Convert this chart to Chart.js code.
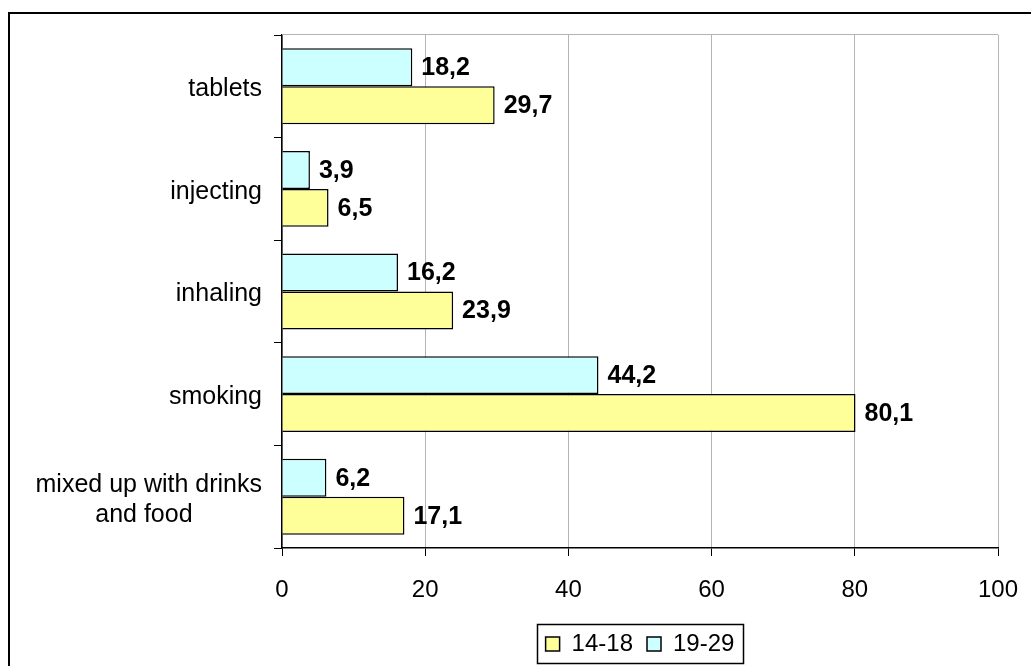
<!DOCTYPE html>
<html>
<head>
<meta charset="utf-8">
<script src="https://cdn.jsdelivr.net/npm/chart.js@4"></script>
<style>
html,body{margin:0;padding:0;background:#fff;}
#wrap{position:relative;width:1031px;height:666px;}
</style>
</head>
<body>
<div id="wrap"><canvas id="c" width="1031" height="666"></canvas></div>
<script>
const categories = ['tablets', 'injecting', 'inhaling', 'smoking', ['mixed up with drinks', 'and food' + '\u00a0'.repeat(10)]];
const series1929 = [18.2, 3.9, 16.2, 44.2, 6.2];
const series1418 = [29.7, 6.5, 23.9, 80.1, 17.1];
const xTicks = [0, 20, 40, 60, 80, 100];

const FONT = "'Liberation Sans', Arial, sans-serif";

function zeroPad(scale) {
  scale.paddingTop = 0; scale.paddingBottom = 0; scale.paddingLeft = 0; scale.paddingRight = 0;
}

const framePlugin = {
  id: 'frame',
  beforeDraw(chart) {
    const ctx = chart.ctx;
    ctx.save();
    ctx.fillStyle = '#fff';
    ctx.fillRect(0, 0, chart.width, chart.height);
    ctx.strokeStyle = '#000';
    ctx.lineWidth = 2;
    ctx.beginPath();
    ctx.moveTo(9, chart.height + 2);
    ctx.lineTo(9, 13);
    ctx.lineTo(chart.width + 2, 13);
    ctx.stroke();
    ctx.restore();
  },
  beforeDatasetsDraw(chart) {
    const a = chart.chartArea, ctx = chart.ctx;
    ctx.save();
    ctx.strokeStyle = '#b4b4b4';
    ctx.lineWidth = 1;
    ctx.beginPath();
    ctx.moveTo(a.left, Math.round(a.top) - 0.5);
    ctx.lineTo(a.right, Math.round(a.top) - 0.5);
    ctx.stroke();
    ctx.restore();
  },
  afterDatasetsDraw(chart) {
    const ctx = chart.ctx;
    ctx.save();
    ctx.font = 'bold 25px ' + FONT;
    ctx.fillStyle = '#000';
    ctx.textAlign = 'left';
    ctx.textBaseline = 'middle';
    chart.data.datasets.forEach((ds, di) => {
      const meta = chart.getDatasetMeta(di);
      meta.data.forEach((el, i) => {
        const v = ds.data[i];
        ctx.fillText(v.toFixed(1).replace('.', ','), el.x + 9, el.y + 1);
      });
    });
    ctx.restore();
  },
  afterDraw(chart) {
    const lg = chart.legend;
    if (!lg || !lg.legendHitBoxes || !lg.legendHitBoxes.length) return;
    const hb = lg.legendHitBoxes;
    let l = Infinity, r = -Infinity, t = Infinity, b = -Infinity;
    hb.forEach(h => { l = Math.min(l, h.left); r = Math.max(r, h.left + h.width); t = Math.min(t, h.top); b = Math.max(b, h.top + h.height); });
    const ctx = chart.ctx;
    ctx.save();
    ctx.strokeStyle = '#000';
    ctx.lineWidth = 1.5;
    const cy = (t + b) / 2;
    const L = Math.round(l) - 9, T = Math.round(cy - 20), R = Math.round(r) + 9, B = Math.round(cy + 19);
    ctx.strokeRect(L + 0.5, T + 0.5, R - L, B - T);
    ctx.restore();
  }
};

new Chart(document.getElementById('c'), {
  type: 'bar',
  data: {
    labels: categories,
    datasets: [
      { label: '19-29', data: series1929, backgroundColor: '#CCFFFF', borderColor: '#000', borderWidth: 1.5, categoryPercentage: 0.74, barPercentage: 1.0 },
      { label: '14-18', data: series1418, backgroundColor: '#FFFF99', borderColor: '#000', borderWidth: 1.5, categoryPercentage: 0.74, barPercentage: 1.0 }
    ]
  },
  options: {
    indexAxis: 'y',
    responsive: false,
    animation: false,
    devicePixelRatio: 1,
    layout: { padding: { left: 0, top: 35, right: 33, bottom: 0 } },
    plugins: {
      legend: {
        position: 'bottom',
        fullSize: false,
        reverse: true,
        labels: {
          font: { family: FONT, size: 24, lineHeight: 0.6 },
          color: '#000',
          boxWidth: 14,
          boxHeight: 14,
          padding: 14,
          generateLabels(chart) {
            const items = Chart.defaults.plugins.legend.labels.generateLabels(chart);
            items.forEach(it => { it.lineWidth = 1.5; it.strokeStyle = '#000'; });
            return items;
          }
        }
      },
      tooltip: { enabled: false }
    },
    scales: {
      x: {
        min: 0, max: 100,
        afterBuildTicks(scale) { scale.ticks = xTicks.map(v => ({ value: v })); },
        grid: { color: '#b4b4b4', tickColor: '#000', tickLength: 8, lineWidth: 1 },
        border: { color: '#000', width: 1.5 },
        ticks: { font: { family: FONT, size: 24 }, color: '#000', padding: 20 },
        afterFit(scale) { scale.height = 70; zeroPad(scale); }
      },
      y: {
        grid: { drawOnChartArea: false, color: '#000', tickLength: 8, offset: true },
        border: { color: '#000', width: 1.5 },
        ticks: { font: { family: FONT, size: 25 }, color: '#000', padding: 12, labelOffset: 3 },
        afterFit(scale) { scale.width = 282; zeroPad(scale); }
      }
    }
  },
  plugins: [framePlugin]
});
</script>
</body>
</html>
